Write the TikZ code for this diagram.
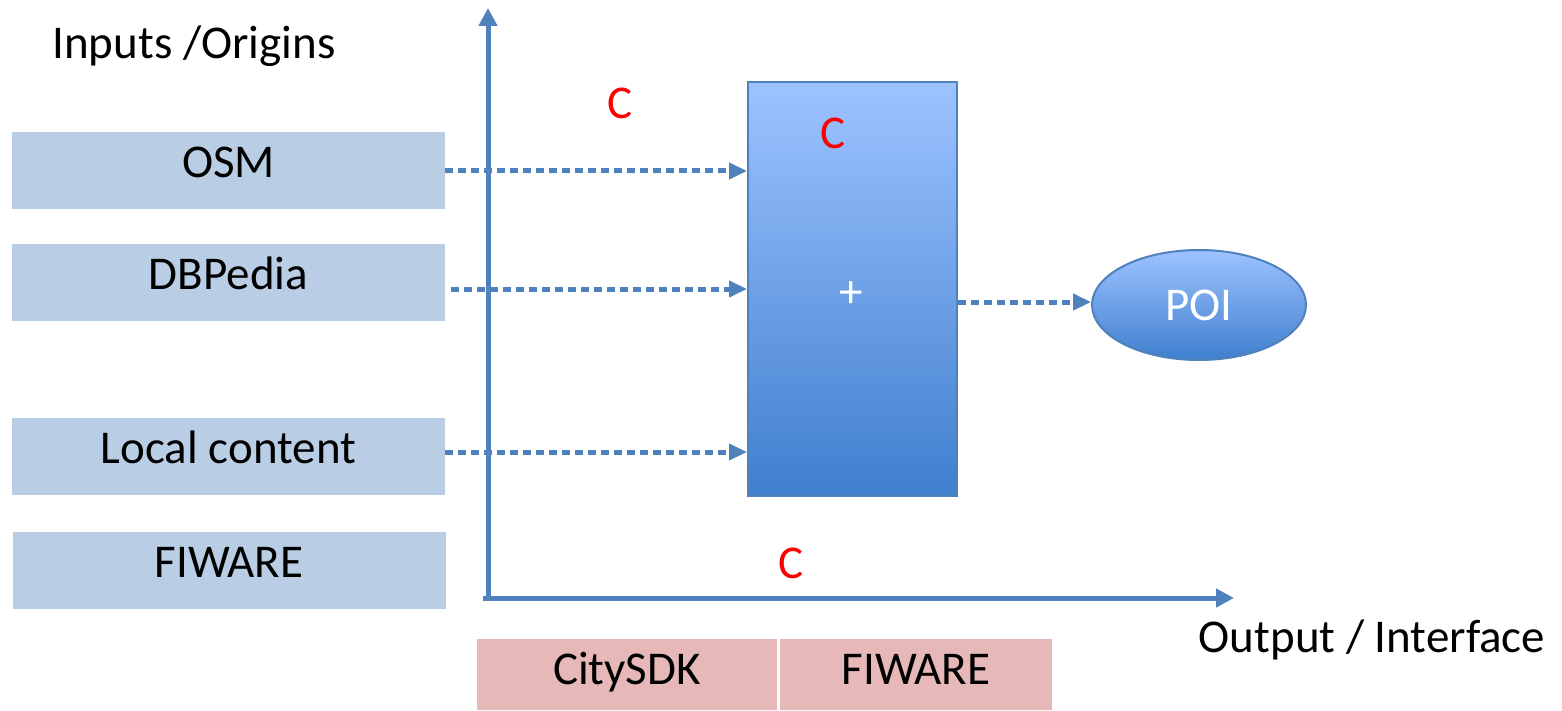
\documentclass[tikz,border=0pt]{standalone}
\usepackage{fontspec}
\setmainfont{Carlito}
\usetikzlibrary{arrows.meta,shapes.geometric}
\definecolor{axisblue}{HTML}{4F81BD}
\definecolor{lightbox}{HTML}{B9CDE5}
\definecolor{pinkbox}{HTML}{E6B9B8}
\definecolor{gradtop}{HTML}{9DC3FF}
\definecolor{gradbot}{HTML}{3F7FCE}
\definecolor{redc}{HTML}{FF0000}
\tikzset{
  inbox/.style={fill=lightbox, draw=none, minimum width=216.5pt, minimum height=38.5pt, inner sep=0pt, text height=16pt, text depth=8.8pt, font=\fontsize{23.5}{28}\selectfont},
  outbox/.style={fill=pinkbox, draw=none, minimum height=35.5pt, inner sep=0pt, text height=16pt, text depth=6pt, font=\fontsize{23.5}{28}\selectfont},
  axisline/.style={draw=axisblue, line width=2.5pt, -{Triangle[length=9pt,width=9pt]}},
  dotline/.style={draw=axisblue, line width=2.5pt, dash pattern=on 4pt off 2.5pt, -{Triangle[length=9pt,width=8pt]}, shorten >=0pt},
  clabel/.style={text=redc, font=\fontsize{23.5}{28}\selectfont},
  plain/.style={font=\fontsize{23.5}{28}\selectfont},
}
\begin{document}
\begin{tikzpicture}[x=0.5pt,y=-0.5pt]
\useasboundingbox (0,0) rectangle (1562,711);
% left boxes
\node[inbox] (osm) at (228.5,170.5) {OSM};
\node[inbox] (dbp) at (228.5,282.5) {DBPedia};
\node[inbox] (loc) at (228.5,456.5) {Local content};
\node[inbox] (fiw) at (229,570.5) {FIWARE};
% bottom boxes
\node[outbox, minimum width=150pt] (city) at (627,674.5) {CitySDK};
\node[outbox, minimum width=136pt] (fiw2) at (916,674.5) {FIWARE};
% big box
\node[draw=axisblue, line width=1pt, top color=gradtop, bottom color=gradbot, minimum width=104.5pt, minimum height=207pt, inner sep=0pt] (mix) at (852.5,289) {};
\node[text=white, font=\fontsize{23.5}{28}\selectfont] (plus) at (851,295) {+};
% ellipse
\node[ellipse, draw=axisblue, line width=1pt, top color=gradtop, bottom color=gradbot, minimum width=107pt, minimum height=55pt, inner sep=0pt, text=white, font=\fontsize{23.5}{28}\selectfont] (poi) at (1199,305) {POI};
% axes
\coordinate (origin) at (488,600);
\coordinate (ytip) at (488,8);
\coordinate (xstart) at (483,598);
\coordinate (xtip) at (1234,598);
\draw[axisline] (origin) -- (ytip);
\draw[axisline] (xstart) -- (xtip);
% dotted arrows
\coordinate (dbps) at (451,289);
\draw[dotline] (osm.east |- 0,171) -- (mix.west |- 0,171);
\draw[dotline] (dbps) -- (mix.west |- dbps);
\draw[dotline] (loc.east |- 0,452) -- (mix.west |- 0,452);
\draw[dotline] (mix.east |- 0,302) -- (poi.west |- 0,302);
% labels
\node[plain] (inputs) at (194,46) {Inputs /Origins};
\node[plain] (output) at (1372,640) {Output / Interface};
\node[clabel] (c1) at (620,103) {C};
\node[clabel] (c2) at (833,133) {C};
\node[clabel] (c3) at (791,563) {C};
\end{tikzpicture}
\end{document}
